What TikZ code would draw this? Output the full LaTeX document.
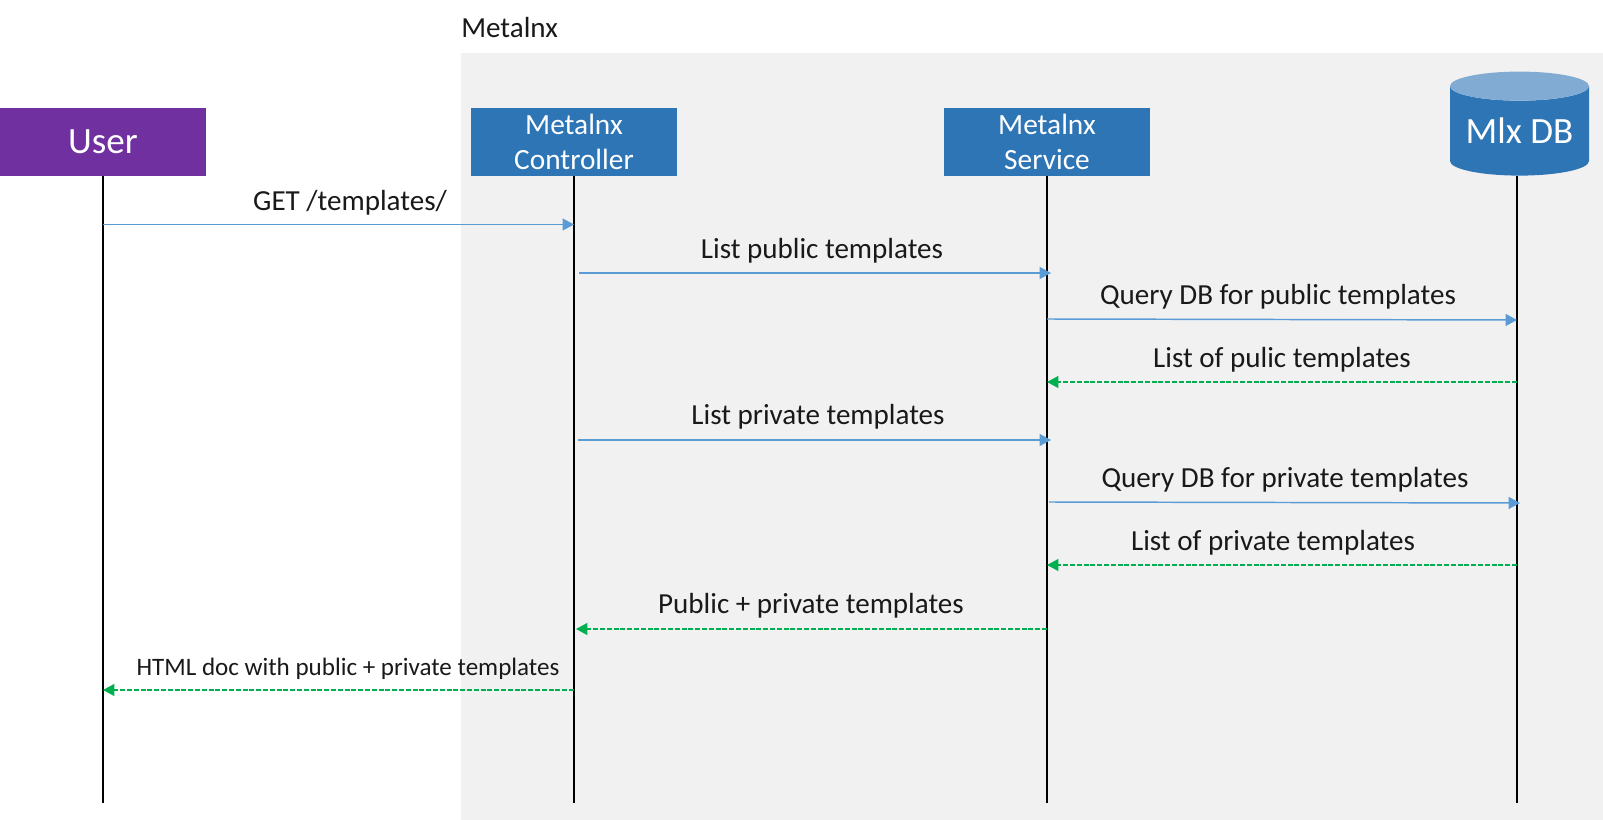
\documentclass[tikz,border=0pt]{standalone}
\usepackage{fontspec}
\setmainfont{Carlito}
\usetikzlibrary{arrows.meta,shapes.geometric}
\definecolor{boxblue}{HTML}{2E75B6}
\definecolor{dbtop}{HTML}{82ABD3}
\definecolor{callblue}{HTML}{5B9BD5}
\definecolor{replygreen}{HTML}{00B050}
\definecolor{userpurple}{HTML}{7030A0}
\definecolor{regiongray}{HTML}{F1F1F1}
\tikzset{x=0.75pt,y=-0.75pt,
el/.style={font=\fontsize{21.8}{24}\selectfont,inner sep=0pt,text=black!90},
elsmall/.style={font=\fontsize{18.8}{20}\selectfont,inner sep=0pt,text=black!90},
actor/.style={rectangle,fill=boxblue,text=white,minimum width=154.5pt,minimum height=51pt,inner sep=0pt,align=center,
  font=\fontsize{22}{26.5}\selectfont},
lifeline/.style={draw=black,line width=1.2pt},
call/.style={draw=callblue,line width=1.1pt,-{Triangle[length=8.6pt,width=9pt]}},
reply/.style={draw=replygreen,line width=1.1pt,dash pattern=on 3.8pt off 1.3pt,-{Triangle[length=8.6pt,width=9pt,fill=replygreen]}},
}
\begin{document}
\begin{tikzpicture}
\useasboundingbox (0,0) rectangle (1603,820);
\fill[regiongray] (461,53) rectangle (1603,820);
\node[el,anchor=west] (metalnx) at (461,28) {Metalnx};

\node[actor,fill=userpurple,font=\fontsize{27.8}{30}\selectfont] (user) at (103,142) {User};
\node[actor] (ctrl) at (574,142) {Metalnx\\Controller};
\node[actor] (svc) at (1047,142) {Metalnx\\Service};
\node[cylinder,shape border rotate=90,aspect=0.27,cylinder uses custom fill,
  cylinder body fill=boxblue,cylinder end fill=dbtop,
  minimum width=104.25pt,minimum height=78pt,inner sep=0pt,
  text=white,font=\fontsize{27.8}{30}\selectfont] (db) at (1519.5,131) {\smash{\raisebox{-9.5pt}{Mlx DB}}};

\coordinate (dbs) at (1517,176);
\coordinate (userend) at (103,803);
\coordinate (ctrlend) at (574,803);
\coordinate (svcend) at (1047,803);
\coordinate (dbend) at (1517,803);

\coordinate (a1) at (103,224.5);  \coordinate (b1) at (574,224.5);
\coordinate (a2) at (579,273);    \coordinate (b2) at (1051,273);
\coordinate (a3) at (1047,319);   \coordinate (b3) at (1517,320);
\coordinate (a4) at (1517,382);   \coordinate (b4) at (1047,382);
\coordinate (a5) at (578,440);    \coordinate (b5) at (1051,440);
\coordinate (a6) at (1049,502);   \coordinate (b6) at (1520,503);
\coordinate (a7) at (1517,565);   \coordinate (b7) at (1047,565);
\coordinate (a8) at (1047,629);   \coordinate (b8) at (576,629);
\coordinate (a9) at (574,690);    \coordinate (b9) at (103,690);

\draw[lifeline] (user.south) -- (userend);
\draw[lifeline] (ctrl.south) -- (ctrlend);
\draw[lifeline] (svc.south) -- (svcend);
\draw[lifeline] (dbs) -- (dbend);

\path
(a1) edge[call] (b1)
(a2) edge[call] (b2)
(a3) edge[call] (b3)
(a4) edge[reply] (b4)
(a5) edge[call] (b5)
(a6) edge[call] (b6)
(a7) edge[reply] (b7)
(a8) edge[reply] (b8)
(a9) edge[reply] (b9)
;

\node[el] (lbl1) at (350,203) {GET /templates/};
\node[el] (lbl2) at (822,251) {List public templates};
\node[el] (lbl3) at (1278,297) {Query DB for public templates};
\node[el] (lbl4) at (1282,360) {List of pulic templates};
\node[el] (lbl5) at (818,417) {List private templates};
\node[el] (lbl6) at (1285,480) {Query DB for private templates};
\node[el] (lbl7) at (1273,543) {List of private templates};
\node[el] (lbl8) at (811,606) {Public + private templates};
\node[elsmall] (lbl9) at (348,669) {HTML doc with public + private templates};
\end{tikzpicture}
\end{document}
